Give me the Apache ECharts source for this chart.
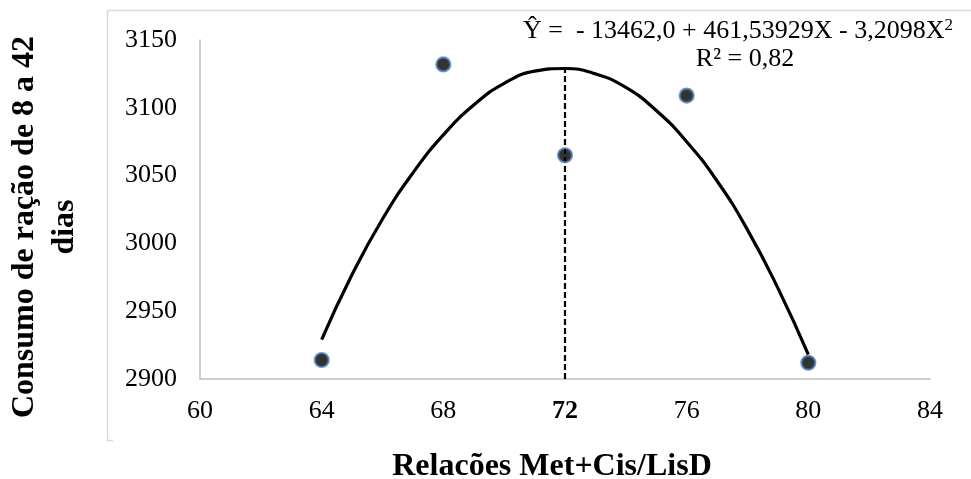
<!DOCTYPE html>
<html><head><meta charset="utf-8">
<script src="https://cdn.jsdelivr.net/npm/echarts@6/dist/echarts.min.js"></script>
<style>html,body{margin:0;padding:0;background:#fff}#c{width:971px;height:479px}</style>
</head><body><div id="c"></div>
<script>
// Observed data points
const pointX = [64, 68, 72, 76, 80];
const pointY = [2914, 3132, 3065, 3109, 2912];
// Fitted curve
const curveX = [64, 65, 66, 67, 68, 69, 70, 71, 72, 73, 74, 75, 76, 77, 78, 79, 80];
const curveY = [2929, 2977, 3018, 3052, 3080, 3102, 3118, 3127, 3129, 3125, 3115, 3098, 3075, 3046, 3010, 2967, 2918];
// Peak dashed line
const peakX = 72;
const peakY = [2900, 3129];
// Axis ticks
const xTicks = [60, 64, 68, 72, 76, 80, 84];
const yTicks = [2900, 2950, 3000, 3050, 3100, 3150];
const boldTick = 72;

const F = '"Liberation Serif","Times New Roman",serif';
const chart = echarts.init(document.getElementById('c'));
chart.setOption({
  animation: false,
  grid: {left: 200, right: 41, top: 40, bottom: 100},
  xAxis: {
    type: 'value', min: xTicks[0], max: xTicks[xTicks.length-1], interval: xTicks[1]-xTicks[0],
    axisLine: {lineStyle: {color: '#bfbfbf', width: 1.5}},
    axisTick: {show: false}, splitLine: {show: false},
    axisLabel: {margin: 19, fontFamily: F, fontSize: 26, color: '#000',
      formatter: v => v === boldTick ? '{b|' + v + '}' : String(v),
      rich: {b: {fontFamily: F, fontSize: 26, fontWeight: 'bold', color: '#000'}}}
  },
  yAxis: {
    type: 'value', min: yTicks[0], max: yTicks[yTicks.length-1], interval: yTicks[1]-yTicks[0],
    axisLine: {show: true, lineStyle: {color: '#bfbfbf', width: 1.5}},
    axisTick: {show: false}, splitLine: {show: false},
    axisLabel: {margin: 23, fontFamily: F, fontSize: 26, color: '#000', formatter: v => String(v)}
  },
  series: [
    {type: 'line', data: curveX.map((x, i) => [x, curveY[i]]), smooth: true, symbol: 'none',
     lineStyle: {color: '#000', width: 3.2}, z: 2},
    {type: 'line', data: peakY.map(y => [peakX, y]), symbol: 'none',
     lineStyle: {color: '#000', width: 2.2, type: [6, 3]}, z: 3},
    {type: 'scatter', data: pointX.map((x, i) => [x, pointY[i]]), symbolSize: 14,
     itemStyle: {color: '#000', borderColor: '#4f81bd', borderWidth: 2.2}, z: 4}
  ],
  graphic: [
    {type: 'polyline', shape: {points: [[971, 10.5], [107.5, 10.5], [107.5, 440.5], [113, 440.5]]},
     style: {stroke: '#d9d9d9', lineWidth: 1.5, fill: null}},
    {type: 'text', x: 523, y: 31, style: {
      text: 'Ŷ =  - 13462,0 + 461,53929X - 3,2098X{s|2}', fontFamily: F, fontSize: 26, fill: '#000', verticalAlign: 'middle',
      rich: {s: {fontFamily: F, fontSize: 17, verticalAlign: 'top', padding: [0,0,10,0]}}}},
    {type: 'text', x: 745, y: 59, style: {text: 'R² = 0,82', fontFamily: F, fontSize: 26, fill: '#000', align: 'center', verticalAlign: 'middle'}},
    {type: 'text', x: 552, y: 467, style: {text: 'Relacões Met+Cis/LisD', fontFamily: F, fontSize: 32, fontWeight: 'bold', fill: '#000', align: 'center', verticalAlign: 'middle'}},
    {type: 'text', x: 45, y: 227, rotation: Math.PI/2, style: {text: 'Consumo de ração de 8 a 42\ndias', fontFamily: F, fontSize: 32, fontWeight: 'bold', fill: '#000', align: 'center', verticalAlign: 'middle', lineHeight: 40}}
  ]
});
</script></body></html>
